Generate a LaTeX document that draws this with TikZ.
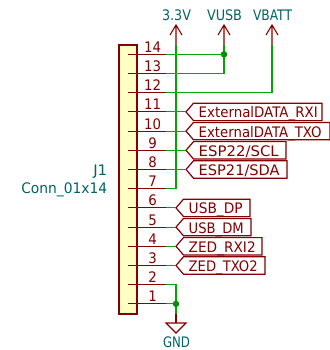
\documentclass[tikz,border=0pt]{standalone}
\usepackage{graphicx}
\usepackage{fontspec}
\setmainfont{DejaVu Sans}
\definecolor{kred}{HTML}{840000}
\definecolor{kteal}{HTML}{006464}
\definecolor{kgreen}{HTML}{00A800}
\definecolor{kfill}{HTML}{FFFFC2}
\newcommand{\fitw}[2]{\resizebox{#1pt}{\height}{#2}}
\tikzset{
  pinline/.style={draw=kred,line width=1.1pt},
  wire/.style={draw=kgreen,line width=1.1pt},
  outline/.style={draw=kred,line width=1.2pt,line join=miter},
  junction/.style={circle,fill=kgreen!85!black,inner sep=0pt,minimum size=6.5pt},
  pinnum/.style={text=kred,font=\fontsize{14.5}{15}\selectfont,inner sep=0pt,anchor=base},
  nettext/.style={text=kred,font=\fontsize{14.5}{15}\selectfont,inner sep=0pt,anchor=base west},
  powertext/.style={text=kteal,font=\fontsize{14.5}{15}\selectfont,inner sep=0pt,anchor=base},
  reftext/.style={text=kteal,font=\fontsize{14.5}{15}\selectfont,inner sep=0pt,anchor=base east},
}
% pin: number, y
\newcommand{\kpin}[2]{%
  \coordinate (pin#1) at (166,#2);
  \coordinate (pinend#1) at (128,#2);
  \draw[pinline] (pinend#1) -- (pin#1);
  \node[pinnum] (num#1) at (152.5,#2-2) {\scalebox{0.92}[1]{#1}};
}
% net label: name, tip x, y, right x, text width, text
\newcommand{\netlabel}[6]{%
  \coordinate (#1) at (#2,#3);
  \draw[outline,fill=white] (#1) -- (#2+7.5,#3-8.7) -- (#4,#3-8.7) -- (#4,#3+8.7) -- (#2+7.5,#3+8.7) -- cycle;
  \node[nettext] (#1text) at (#2+12.5,#3+6) {\fitw{#5}{#6}};
}
\begin{document}
\begin{tikzpicture}[x=1pt,y=-1pt]
\useasboundingbox (0,0) rectangle (329,350);
\draw[outline,fill=kfill] (119,45) rectangle (137,314);
\node[reftext] (ref) at (107.5,175) {\fitw{14}{J1}};
\node[reftext] (val) at (107.5,193.5) {\fitw{86}{Conn\_01x14}};
\kpin{14}{54.3}
\kpin{13}{73.5}
\kpin{12}{92.7}
\kpin{11}{111.9}
\kpin{10}{131.1}
\kpin{9}{150.3}
\kpin{8}{169.5}
\kpin{7}{188.7}
\kpin{6}{207.9}
\kpin{5}{227.1}
\kpin{4}{246.3}
\kpin{3}{265.5}
\kpin{2}{284.7}
\kpin{1}{303.9}
% power symbols
\coordinate (p33) at (176,45);
\coordinate (pusb) at (224,45);
\coordinate (pbat) at (272,45);
\foreach \c/\x in {p33/176,pusb/224,pbat/272}{
  \draw[pinline] (\c) -- (\x,25) (\x-6,35) -- (\x,25) -- (\x+6,35);
}
\node[powertext] (t33) at (176.5,21) {\fitw{29}{3.3V}};
\node[powertext] (tusb) at (224.5,21) {\fitw{35}{VUSB}};
\node[powertext] (tbat) at (272.5,21) {\fitw{39}{VBATT}};
% net labels
\netlabel{a}{186}{111.9}{322}{119}{ExternalDATA\_RXI}
\netlabel{b}{186}{131.1}{330}{123}{ExternalDATA\_TXO}
\netlabel{c}{186}{150.3}{286}{80}{ESP22/SCL}
\netlabel{d}{186}{169.5}{287}{81}{ESP21/SDA}
\netlabel{e}{176}{207.9}{250}{54}{USB\_DP}
\netlabel{f}{176}{227.1}{251}{55}{USB\_DM}
\netlabel{g}{176}{246.3}{262}{67}{ZED\_RXI2}
\netlabel{h}{176}{265.5}{265}{69}{ZED\_TXO2}
% wires
\coordinate (usbj) at (224,54.3);
\draw[wire] (pin14) -- (usbj);
\draw[wire] (pin13) -| (usbj) -- (pusb);
\draw[wire] (pin12) -| (pbat);
\draw[wire] (p33) |- (pin7);
\draw[wire] (pin11) -- (a);
\draw[wire] (pin10) -- (b);
\draw[wire] (pin9) -- (c);
\draw[wire] (pin8) -- (d);
\draw[wire] (pin6) -- (e);
\draw[wire] (pin5) -- (f);
\draw[wire] (pin4) -- (g);
\draw[wire] (pin3) -- (h);
\coordinate (gj) at (176,303.9);
\draw[wire] (pin2) -| (gj);
\draw[wire] (pin1) -- (gj);
\coordinate (gs) at (176,314);
\draw[wire] (gj) -- (gs);
\draw[pinline] (gs) -- (176,323);
\draw[outline] (166,323) -- (186,323) -- (176,333) -- cycle;
\node[powertext] (tgnd) at (176.5,347) {\fitw{27}{GND}};
\node[junction] (j1) at (usbj) {};
\node[junction] (j2) at (gj) {};
\end{tikzpicture}
\end{document}
